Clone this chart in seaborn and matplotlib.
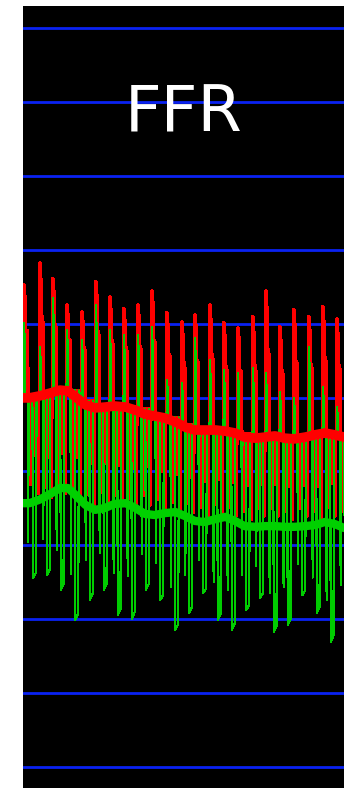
import numpy as np
import pandas as pd
import matplotlib
matplotlib.use("Agg")
import matplotlib.pyplot as plt
import seaborn as sns

# ---- beat-by-beat data (time in s, pressures in mmHg) ----
beat_peak_t = [0.06, 1.06, 1.87, 2.74, 3.68, 4.55, 5.42, 6.29, 7.17, 8.04, 8.97, 9.91,
               10.72, 11.65, 12.52, 13.40, 14.33, 15.14, 16.01, 16.88, 17.82, 18.69, 19.56]

# pressure level the traces rest at between excursions
beat_plateau = [99.9, 100.4, 101.5, 101.9, 99.0, 97.3, 97.5, 97.5, 96.8, 95.3, 94.6, 92.7,
                91.4, 91.2, 90.9, 90.2, 89.1, 89.4, 89.4, 88.9, 89.5, 90.4, 89.6]

# aortic pressure (Pa)
pa_systolic = [130.4, 136.4, 132.1, 125.0, 123.1, 131.3, 127.2, 124.0, 125.0, 128.8, 122.9, 120.4,
               122.3, 125.0, 120.2, 118.8, 121.8, 128.8, 119.1, 123.7, 121.8, 124.5, 121.2]
pa_diastolic = [74.0, 73.0, 74.0, 72.0, 71.0, 72.0, 71.0, 70.0, 71.0, 70.0, 69.0, 69.0,
                68.0, 69.0, 68.0, 67.0, 68.0, 68.0, 67.0, 68.0, 67.0, 68.0, 67.0]

# distal pressure (Pd)
pd_systolic = [120.2, 113.7, 126.9, 118.3, 115.6, 125.0, 118.3, 116.9, 116.9, 119.1, 104.7, 103.9,
               116.1, 110.2, 107.4, 106.6, 108.0, 106.6, 101.5, 99.9, 113.7, 102.8, 97.4]
pd_diastolic = [51.2, 52.0, 47.9, 39.8, 45.2, 47.9, 41.1, 40.1, 47.9, 45.2, 37.1, 41.7,
                47.1, 39.8, 37.1, 42.5, 45.7, 36.5, 38.4, 46.5, 41.7, 33.8, 39.0]

# excursion contour within one beat: position (beat divided into 14 steps) and
# level: +1 = systolic, 0 = plateau, -1 = lowest pressure
pa_step = [0.0, 0.4, 1.4, 1.8, 2.4, 2.8, 3.4, 3.8, 5.6, 6.0, 6.7, 7.1, 8.9, 9.3, 9.6,
           10.0, 11.8, 12.2, 12.7, 13.1]
pa_level = [0.0, 1.0, 0.85, 0.0, 0.0, 0.6, 0.55, 0.0, 0.0, -0.9, -0.9, 0.0, 0.0, -0.6,
            -0.6, 0.0, 0.0, -1.0, -1.0, 0.0]
pd_step = [0.0, 0.5, 1.1, 1.6, 3.6, 4.1, 4.6, 7.8, 8.2, 11.0, 11.4]
pd_level = [0.0, 1.0, 0.75, 0.0, 0.0, -0.8, 0.0, 0.0, -1.0, -0.97, 0.0]
beat_steps = 14.0

# running mean pressures
mean_t = [0.0, 0.4, 1.0, 1.7, 2.3, 2.8, 3.2, 3.9, 4.5, 5.1, 5.7, 6.4, 7.0, 7.6, 8.2, 8.8, 9.5,
          10.1, 10.7, 11.3, 12.0, 12.6, 13.2, 13.8, 14.5, 15.1, 15.7, 16.3, 16.9, 17.6, 18.2,
          18.8, 19.4, 20.0]
pa_mean = [99.9, 99.9, 100.4, 101.2, 102.0, 101.8, 100.4, 98.0, 97.2, 97.4, 97.7, 97.4, 96.6,
           95.5, 95.0, 94.5, 93.4, 92.0, 91.2, 91.2, 91.2, 90.9, 90.4, 89.3, 89.0, 89.3, 89.6,
           89.0, 88.8, 89.3, 89.9, 90.4, 89.9, 89.3]
pd_mean = [71.4, 71.4, 72.3, 73.9, 75.5, 75.5, 73.9, 70.9, 69.6, 70.1, 71.2, 71.4, 70.1, 68.5,
           68.2, 68.7, 69.0, 67.9, 66.6, 66.3, 67.1, 67.7, 66.6, 65.2, 65.0, 65.2, 65.2, 65.0,
           65.0, 65.2, 65.5, 66.3, 65.8, 64.7]

grid_levels = list(range(0, 201, 20))
title = "FFR"


def trace(lows, highs, steps, levels):
    peaks = np.asarray(beat_peak_t)
    onsets = peaks - 0.03
    periods = np.append(np.diff(onsets), np.mean(np.diff(onsets)))
    t, v = [], []
    for on, per, base, lo, hi in zip(onsets, periods, beat_plateau, lows, highs):
        for s, lv in zip(steps, levels):
            t.append(on + s / beat_steps * per)
            v.append(base + lv * (hi - base) if lv >= 0 else base + lv * (base - lo))
    return pd.DataFrame({"t": t, "p": v})


pa_df = trace(pa_diastolic, pa_systolic, pa_step, pa_level)
pd_df = trace(pd_diastolic, pd_systolic, pd_step, pd_level)
mean_df = pd.DataFrame({"t": mean_t, "pa": pa_mean, "pd": pd_mean})

sns.set_style("white")
fig = plt.figure(figsize=(3.44, 7.88), dpi=100, facecolor="white")
ax = fig.add_axes([23 / 344, 0, 321 / 344, 782 / 788])
ax.set_facecolor("black")

for g in grid_levels:
    ax.axhline(g, color="#0a22f2", lw=2.0, zorder=1)

sns.lineplot(data=pa_df, x="t", y="p", ax=ax, color="#ff0000", lw=2.0,
             estimator=None, sort=False, zorder=2, antialiased=False)
sns.lineplot(data=pd_df, x="t", y="p", ax=ax, color="#00cc00", lw=0.8,
             estimator=None, sort=False, zorder=3, antialiased=False)
sns.lineplot(data=mean_df, x="t", y="pd", ax=ax, color="#00d000", lw=6.0,
             estimator=None, sort=False, zorder=4)
sns.lineplot(data=mean_df, x="t", y="pa", ax=ax, color="#ff0000", lw=7.0,
             estimator=None, sort=False, zorder=5)

ax.set_xlim(0, 20)
ax.set_ylim(-5.68, 205.96)
ax.set_xticks([])
ax.set_yticks([])
ax.set_xlabel("")
ax.set_ylabel("")
for s in ax.spines.values():
    s.set_visible(False)

ax.text(0.5, 1 - 125 / 782, title, transform=ax.transAxes, color="white",
        fontsize=46, ha="center", va="baseline", family="DejaVu Sans", zorder=6)

fig.savefig("out.png", dpi=100, facecolor="white")
